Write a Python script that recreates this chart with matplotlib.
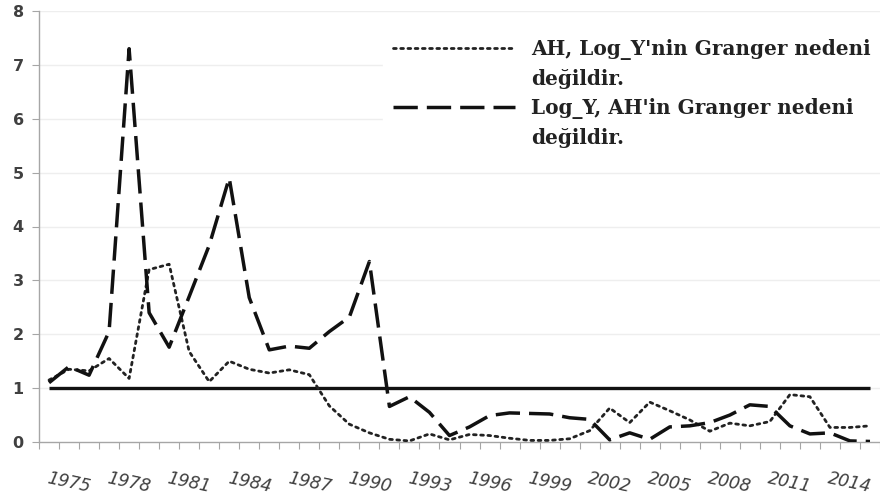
import numpy as np
import matplotlib
matplotlib.use("Agg")
import matplotlib.pyplot as plt
from matplotlib.lines import Line2D

years = list(range(1974, 2016))

# AH, Log_Y'nin Granger nedeni değildir (dotted)
ah_to_logy = [1.15, 1.35, 1.32, 1.55, 1.18, 3.2, 3.3, 1.68, 1.12, 1.5,
              1.35, 1.28, 1.34, 1.25, 0.67, 0.33, 0.17, 0.05, 0.02, 0.15,
              0.04, 0.14, 0.12, 0.07, 0.03, 0.03, 0.06, 0.21, 0.63, 0.36,
              0.74, 0.58, 0.41, 0.2, 0.35, 0.3, 0.38, 0.88, 0.84, 0.27,
              0.27, 0.3]

# Log_Y, AH'in Granger nedeni değildir (dashed)
logy_to_ah = [1.1, 1.4, 1.24, 2.05, 7.3, 2.4, 1.76, 2.7, 3.65, 4.9,
              2.68, 1.71, 1.78, 1.74, 2.05, 2.32, 3.35, 0.66, 0.84, 0.55,
              0.12, 0.28, 0.49, 0.54, 0.53, 0.52, 0.45, 0.42, 0.04, 0.17,
              0.05, 0.28, 0.3, 0.36, 0.5, 0.69, 0.66, 0.3, 0.15, 0.17,
              0.02, 0.01]

critical_value = 1.0

label_years = list(range(1975, 2015, 3))
y_ticks = list(range(0, 9))

legend_labels = ["AH, Log_Y'nin Granger nedeni", "değildir.",
                 "Log_Y, AH'in Granger nedeni", "değildir."]

fig = plt.figure(figsize=(8.8, 5.01), dpi=100)
ax = fig.add_axes([39 / 880, 59 / 501, 841 / 880, 431 / 501])

x = np.arange(len(years))

ax.set_ylim(0, 8)
ax.set_xlim(-0.5, len(years) - 0.5)

for yv in y_ticks:
    if yv > 0:
        ax.axhline(yv, color="#eeeeee", lw=1.0, zorder=0)

l1, = ax.plot(x, ah_to_logy, color="#222222", lw=2.0, dashes=(1, 1.6),
              solid_capstyle="round", dash_capstyle="round", zorder=3)
l2, = ax.plot(x, logy_to_ah, color="#111111", lw=2.5, dashes=(7, 2.6),
              zorder=3)
ax.hlines(critical_value, x[0], x[-1], color="#111111", lw=2.4, zorder=2)

# spines
for s in ["top", "right"]:
    ax.spines[s].set_visible(False)
ax.spines["left"].set_color("#a6a6a6")
ax.spines["bottom"].set_color("#a6a6a6")
ax.spines["left"].set_linewidth(1.0)
ax.spines["bottom"].set_linewidth(1.0)

# y ticks
ax.set_yticks(y_ticks)
ax.tick_params(axis="y", direction="out", length=5, color="#a6a6a6",
               labelsize=11.5, labelcolor="#404040", pad=6)
for t in ax.get_yticklabels():
    t.set_fontweight("bold")

# x ticks: marks at category boundaries, labels at every third year
ax.set_xticks(np.arange(len(years) + 1) - 0.5)
ax.set_xticklabels([])
ax.tick_params(axis="x", which="major", direction="out", length=5,
               color="#a6a6a6")
label_pos = [years.index(yy) for yy in label_years]
ax.set_xticks(label_pos, minor=True)
ax.set_xticklabels([str(yy) for yy in label_years], minor=True)
ax.tick_params(axis="x", which="minor", length=0, pad=29,
               labelsize=12.5, labelcolor="#404040")
for t in ax.get_xticklabels(minor=True):
    t.set_rotation(-12)
    t.set_style("italic")
    t.set_ha("center")
    t.set_va("center")
    t.set_rotation_mode("anchor")

handles = [l1, Line2D([], [], color="none"), l2, Line2D([], [], color="none")]
leg = fig.legend(handles, legend_labels, loc="upper left",
                 bbox_to_anchor=(373 / 880, 1 - 19 / 501),
                 frameon=True, fancybox=False, framealpha=1.0,
                 edgecolor="white", facecolor="white",
                 handlelength=6.1, handletextpad=0.8, borderpad=0.5,
                 labelspacing=0.45,
                 prop={"family": "DejaVu Serif", "weight": "bold", "size": 14.4})
for t in leg.get_texts():
    t.set_color("#222222")

fig.savefig("out.png", dpi=100, facecolor="white")
